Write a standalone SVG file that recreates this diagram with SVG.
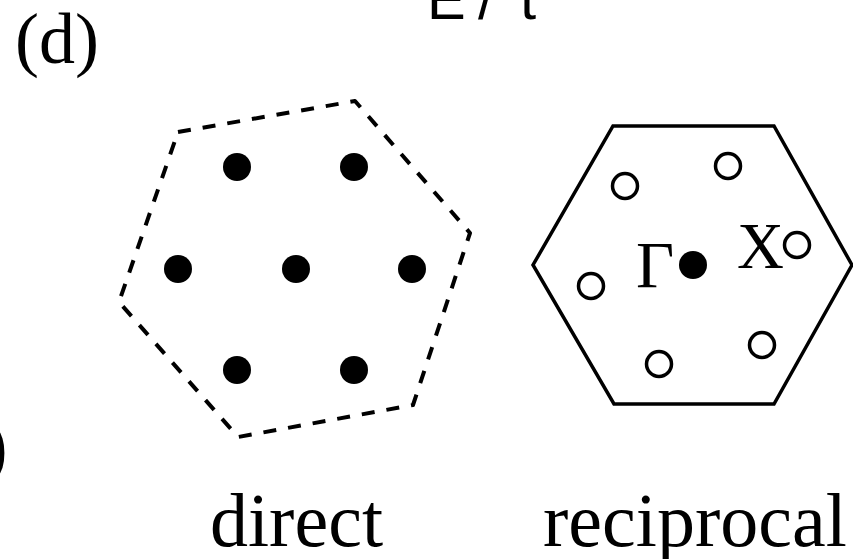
<svg xmlns="http://www.w3.org/2000/svg" width="853" height="559" viewBox="0 0 853 559">
<style>
.serif{font-family:"Liberation Serif","Times New Roman",serif;fill:#000}
.sans{font-family:"Liberation Sans",Arial,sans-serif;fill:#000}
.dash{fill:none;stroke:#000;stroke-width:4;stroke-dasharray:13 12;stroke-linejoin:round}
.solid{fill:none;stroke:#000;stroke-width:3.5;stroke-linejoin:miter}
.dot{fill:#000}
.ring{fill:#fff;stroke:#000;stroke-width:3.5}
</style>
<rect width="853" height="559" fill="#fff"/>
<g id="labels">
<text class="sans" x="427" y="19" font-size="58">E</text>
<text class="sans" x="478" y="19" font-size="58">/</text>
<text class="sans" x="520" y="19" font-size="58">t</text>
<text class="serif" x="15" y="63" font-size="72">(d)</text>
<text class="serif" x="-17" y="471" font-size="74">)</text>
<text class="serif" x="210" y="546" font-size="76">direct</text>
<text class="serif" x="543" y="546" font-size="76">reciprocal</text>
</g>
<g id="direct">
<polygon class="dash" points="178,132 355,101 470,233 413,405 238,437 119,302"/>
<circle class="dot" cx="237" cy="167" r="14"/>
<circle class="dot" cx="354" cy="167" r="14"/>
<circle class="dot" cx="178" cy="269" r="14"/>
<circle class="dot" cx="296" cy="269" r="14"/>
<circle class="dot" cx="412" cy="269" r="14"/>
<circle class="dot" cx="237" cy="370" r="14"/>
<circle class="dot" cx="354" cy="370" r="14"/>
</g>
<g id="reciprocal">
<polygon class="solid" points="613,126 774,126 852,265 774,404 614,404 533,265"/>
<circle class="ring" cx="625" cy="186" r="12.5"/>
<circle class="ring" cx="728" cy="166" r="12.5"/>
<circle class="ring" cx="797" cy="245" r="12.5"/>
<circle class="ring" cx="591" cy="286" r="12.5"/>
<circle class="ring" cx="762" cy="345" r="12.5"/>
<circle class="ring" cx="659" cy="364" r="12.5"/>
<circle class="dot" cx="693" cy="265" r="14"/>
<text class="serif" x="636" y="287" font-size="66">Γ</text>
<text class="serif" x="737" y="268" font-size="65">X</text>
</g>
</svg>
